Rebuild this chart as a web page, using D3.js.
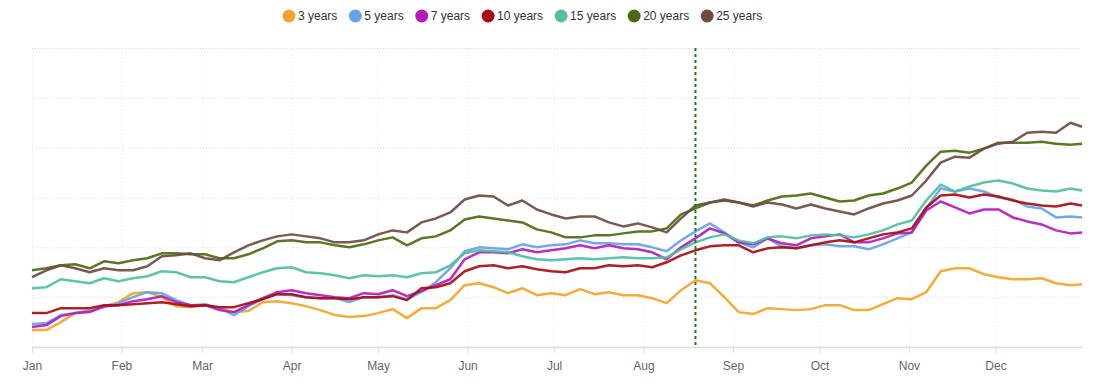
<!DOCTYPE html>
<html>
<head>
<meta charset="utf-8">
<script src="https://cdn.jsdelivr.net/npm/d3@7"></script>
<style>
  body { margin: 0; background: #fff; }
  svg { display: block; font-family: "Liberation Sans", Arial, sans-serif; }
</style>
</head>
<body>
<div id="chart"></div>
<script>
// sample dates: every 5 days from Jan 1, plus Dec 31
const startDate = "2019-01-01";
const endDate = "2019-12-31";
const markerDate = "2019-08-19";
const sampleStep = 5;

const seriesNames = ["3 years", "5 years", "7 years", "10 years", "15 years", "20 years", "25 years"];
const seriesColors = ["#f0a52a", "#68a2e6", "#b41bbc", "#a60d12", "#4fbfa5", "#4d6a12", "#6d4c41"];
const gridValues = [0, 50, 100, 150, 200, 250, 300];

// values (arbitrary units, no y labels in the chart)
const y3 = [17,17,25,34,37,41,45,54,55,50, 41,40,42,39,35,36,45,46,44,41, 37,32,30,31,34,38,29,39,39,47,
            62,64,60,54,59,52,54,52,58,53, 55,52,52,49,44,57,67,64,50,35, 33,39,38,37,38,42,42,37,37,43,
            49,48,55,76,79,79,73,70,68,68, 69,64,62,63];
const y5 = [23,24,32,34,36,40,44,50,55,54, 47,42,43,39,32,41,48,53,52,50, 49,49,45,50,50,52,48,55,65,79,
            96,100,99,98,103,100,102,103,107,104, 104,103,103,100,96,107,116,124,115,105,
            100,109,101,99,102,103,101,101,98,103, 109,115,139,159,156,159,156,150,148,141, 139,130,131,130];
const y7 = [20,22,31,34,35,41,42,46,48,51, 45,42,42,37,35,42,49,55,57,54, 52,50,49,54,53,57,51,56,62,68,
            88,95,95,94,98,95,97,99,102,99, 102,99,98,95,88,100,109,119,114,105,
            103,109,104,102,109,111,113,105,105,109, 114,115,137,146,140,134,138,138,130,126, 123,117,114,115];
const y10 = [34,34,39,39,39,42,42,43,44,45, 43,41,42,40,40,44,48,53,53,50, 49,49,48,50,50,51,47,59,60,64,
             76,81,82,79,81,78,76,75,79,79, 82,81,82,80,85,92,97,101,102,102,
             95,99,100,99,102,105,107,105,109,113, 115,119,140,152,153,150,153,151,147,144, 142,141,144,142];
const y15 = [59,60,68,66,64,69,66,69,71,76, 75,70,70,66,65,70,75,79,80,75, 74,72,69,72,71,72,70,74,75,82,
             94,97,96,95,91,88,87,88,89,88, 89,90,89,89,90,98,105,110,113,107,
             104,110,111,109,112,113,112,110,113,117, 123,127,147,163,156,161,165,167,164,159, 157,156,159,157];
const y20 = [77,79,82,83,79,86,84,87,89,94, 94,93,93,89,89,93,99,106,107,105, 105,102,100,103,107,110,102,109,111,117,
             128,131,129,127,125,118,115,110,110,112, 112,114,116,116,119,133,139,145,147,145,
             142,147,151,152,154,150,146,147,152,154, 159,165,182,196,197,195,199,205,205,205, 206,204,203,204];
const y25 = [70,77,82,79,75,79,77,77,81,91, 92,94,89,87,95,102,107,111,113,111, 109,105,105,107,113,117,115,125,129,135,
             148,152,151,142,147,138,133,129,131,131, 125,121,124,120,115,129,142,145,148,145,
             141,145,143,139,143,139,136,133,139,144, 147,152,167,185,191,190,199,204,206,215, 216,215,225,221];

const seriesValues = [y3, y5, y7, y10, y15, y20, y25];

const width = 1099, height = 384;
const margin = { top: 48, right: 17, bottom: 37, left: 32 };

const parse = d3.timeParse("%Y-%m-%d");
const start = parse(startDate), end = parse(endDate);
const dates = d3.range(0, 361, sampleStep).map(d => d3.timeDay.offset(start, d)).concat([end]);

const svg = d3.select("#chart")
  .append("svg")
    .attr("width", width)
    .attr("height", height);

const x = d3.scaleTime()
  .domain([start, end])
  .range([margin.left, width - margin.right]);
const y = d3.scaleLinear()
  .domain([0, 300])
  .range([height - margin.bottom, margin.top]);

// horizontal grid (dotted)
svg.append("g")
  .attr("class", "hgrid")
  .attr("transform", "translate(" + margin.left + ",0)")
  .call(d3.axisLeft(y).tickValues(gridValues.slice(1)).tickSize(-(x.range()[1] - x.range()[0])).tickFormat(""))
  .call(g => g.select(".domain").remove())
  .selectAll("line")
    .attr("stroke", "#d9d9d9")
    .attr("stroke-dasharray", "1,2");

// vertical grid at month starts
svg.append("g")
  .attr("class", "vgrid")
  .attr("transform", "translate(0," + y(0) + ")")
  .call(d3.axisBottom(x).ticks(d3.timeMonth.every(1)).tickSize(-(y(0) - y(300))).tickFormat(""))
  .call(g => g.select(".domain").remove())
  .selectAll("line")
    .attr("stroke", "#e6e6e6")
    .attr("stroke-dasharray", "1,2");

// x axis
const xAxis = svg.append("g")
  .attr("transform", "translate(0," + y(0) + ")")
  .call(d3.axisBottom(x)
    .ticks(d3.timeMonth.every(1))
    .tickFormat(d3.timeFormat("%b"))
    .tickSize(6)
    .tickPadding(8)
    .tickSizeOuter(0));
xAxis.select(".domain").attr("stroke", "#dcdcdc").attr("stroke-width", 1.5);
xAxis.selectAll(".tick line").attr("stroke", "#dcdcdc");
xAxis.selectAll(".tick text")
  .attr("fill", "#666")
  .style("font-size", "12px")
  .style("font-family", "\"Liberation Sans\", Arial, sans-serif");

// lines
const line = d3.line()
  .x((d, i) => x(dates[i]))
  .y(d => y(d));

svg.selectAll(".series")
  .data(seriesValues)
  .enter()
  .append("path")
    .attr("class", "series")
    .attr("d", d => line(d))
    .attr("fill", "none")
    .attr("stroke", (d, i) => seriesColors[i])
    .attr("stroke-width", 2.5)
    .attr("stroke-linejoin", "round")
    .attr("stroke-opacity", 0.92);

// marker line
const mx = x(parse(markerDate));
svg.append("line")
  .attr("x1", mx).attr("x2", mx)
  .attr("y1", y(300)).attr("y2", y(0))
  .attr("stroke", "#1c7a1c")
  .attr("stroke-width", 2)
  .attr("stroke-dasharray", "3,3");

// legend
const legend = svg.append("g").attr("transform", "translate(0,16)");
let lx = 289;
seriesNames.forEach((name, i) => {
  const item = legend.append("g").attr("transform", "translate(" + lx + ",0)");
  item.append("circle").attr("r", 6.5).attr("fill", seriesColors[i]);
  const t = item.append("text")
    .attr("x", 9)
    .attr("dy", "0.35em")
    .attr("fill", "#333")
    .style("font-size", "12px")
    .text(name);
  lx += 9 + t.node().getComputedTextLength() + 18;
});
</script>
</body>
</html>
